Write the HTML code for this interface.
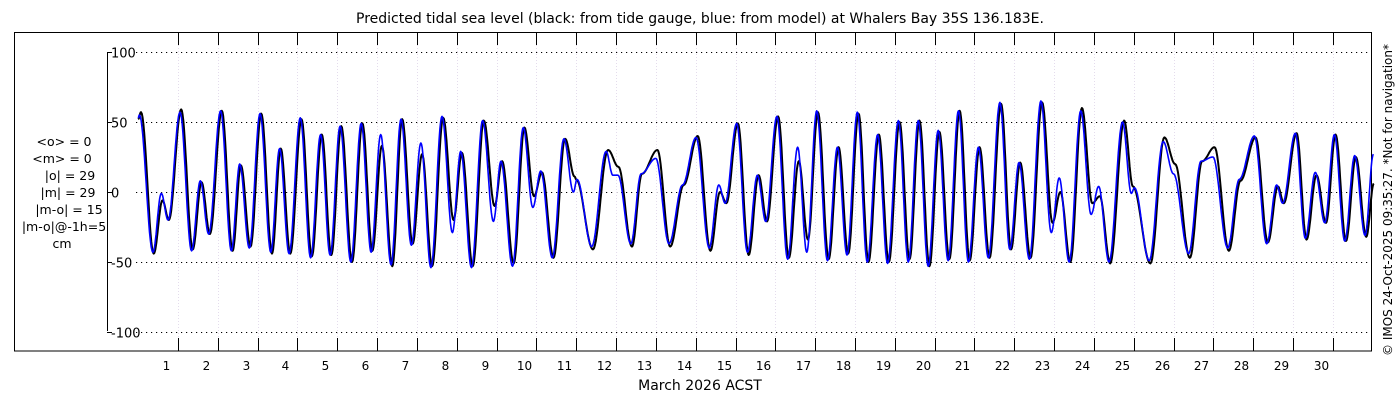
<!DOCTYPE html>
<html><head><meta charset="utf-8">
<style>
html,body{margin:0;padding:0;background:#fff;width:1400px;height:400px;overflow:hidden}
svg{display:block;font-family:"DejaVu Sans","Liberation Sans",sans-serif}
</style></head>
<body>
<svg id="chart" width="1400" height="400">
<defs><clipPath id="statclip"><rect x="0" y="0" width="107" height="400"/></clipPath></defs>
<text x="700" y="23" text-anchor="middle" font-size="14">Predicted tidal sea level (black: from tide gauge, blue: from model) at Whalers Bay 35S 136.183E.</text>
<rect x="14.5" y="32.5" width="1357" height="318.5" fill="none" stroke="#000" stroke-width="1"/>
<g id="grid"></g>
<g id="axes"></g>
<g id="series"></g>
<g font-size="12.5" text-anchor="middle" clip-path="url(#statclip)">
<text x="64" y="146">&lt;o&gt; = 0</text>
<text x="62" y="163">&lt;m&gt; = 0</text>
<text x="70" y="180">|o| = 29</text>
<text x="68" y="197">|m| = 29</text>
<text x="69" y="214">|m-o| = 15</text>
<text x="64" y="231">|m-o|@-1h=5</text>
<text x="62" y="248">cm</text>
</g>
<line x1="107.5" y1="52" x2="107.5" y2="331" stroke="#000"/>
<text x="700" y="390" text-anchor="middle" font-size="14">March 2026 ACST</text>
<text transform="translate(1392,200) rotate(-90)" text-anchor="middle" font-size="12">© IMOS 24-Oct-2025 09:35:27. *Not for navigation*</text>
</svg>
<script>
// observed (black) extremes: time in days from 1 Mar 00:00, value in cm
const obsTimes = [0,0.07,0.39,0.61,0.77,1.08,1.37,1.59,1.80,2.10,2.37,2.58,2.82,3.09,3.36,3.58,3.82,4.10,4.36,4.61,4.85,5.10,5.37,5.63,5.88,6.12,6.38,6.63,6.89,7.13,7.38,7.66,7.92,8.13,8.40,8.68,8.95,9.14,9.43,9.70,9.94,10.14,10.43,10.72,10.96,11.00,11.42,11.80,12.06,12.40,12.65,13.04,13.36,13.70,14.05,14.37,14.61,14.77,15.06,15.33,15.58,15.79,16.07,16.34,16.59,16.82,17.07,17.34,17.59,17.83,18.09,18.34,18.60,18.85,19.12,19.37,19.62,19.87,20.12,20.37,20.63,20.88,21.13,21.38,21.67,21.92,22.15,22.41,22.70,22.96,23.16,23.41,23.70,23.96,24.15,24.41,24.76,24.98,25.42,25.77,26.04,26.41,26.72,27.03,27.39,27.68,28.06,28.37,28.62,28.77,29.09,29.34,29.59,29.83,30.07,30.33,30.58,30.84,31.03];
const obsValues = [52,57,-44,-6,-20,59,-41,7,-30,58,-42,19,-39,56,-44,31,-44,52,-46,41,-45,47,-50,49,-42,33,-53,52,-37,27,-53,53,-20,28,-53,51,-10,22,-51,46,-3,14,-47,38,11,9,-41,30,18,-39,13,30,-39,5,40,-42,0,-8,49,-45,12,-21,54,-47,22,-34,57,-48,32,-44,56,-50,41,-50,50,-48,51,-53,43,-48,58,-49,32,-47,63,-41,21,-47,64,-22,0,-50,60,-8,-3,-51,51,4,-51,39,20,-47,22,32,-42,8,39,-36,4,-8,42,-34,12,-22,41,-35,25,-32,6];
// model (blue) extremes
const modTimes = [0,0.03,0.37,0.58,0.75,1.05,1.34,1.56,1.77,2.07,2.34,2.55,2.79,3.06,3.33,3.55,3.79,4.07,4.33,4.58,4.82,5.07,5.34,5.60,5.85,6.09,6.35,6.60,6.86,7.10,7.35,7.63,7.89,8.10,8.37,8.65,8.92,9.11,9.40,9.67,9.91,10.11,10.40,10.69,10.93,11.02,11.39,11.75,11.92,12.05,12.37,12.63,13.00,13.33,13.67,14.01,14.34,14.58,14.74,15.03,15.30,15.55,15.76,16.04,16.31,16.56,16.79,17.04,17.31,17.56,17.80,18.06,18.31,18.57,18.82,19.09,19.34,19.59,19.84,20.09,20.34,20.60,20.85,21.10,21.35,21.64,21.89,22.12,22.38,22.67,22.93,23.13,23.38,23.67,23.93,24.12,24.38,24.72,24.94,25.02,25.39,25.74,26.00,26.38,26.69,26.99,27.36,27.65,28.03,28.34,28.59,28.74,29.06,29.31,29.56,29.80,30.04,30.30,30.55,30.81,31.02];
const modValues = [53,55,-43,-1,-20,57,-42,8,-30,58,-42,20,-40,56,-43,31,-44,53,-47,41,-45,47,-50,49,-43,41,-52,52,-38,35,-54,54,-29,29,-54,51,-21,22,-53,46,-11,15,-47,38,0,9,-39,29,12,12,-37,13,24,-37,5,39,-40,5,-8,49,-43,12,-21,54,-48,32,-43,58,-49,32,-45,57,-50,41,-51,51,-50,51,-53,44,-49,58,-50,32,-47,64,-41,21,-48,65,-29,10,-50,58,-16,4,-50,50,-1,3,-49,36,13,-44,22,25,-40,9,40,-37,5,-8,42,-33,14,-22,41,-35,26,-31,27];
const dayLabels = ["1","2","3","4","5","6","7","8","9","10","11","12","13","14","15","16","17","18","19","20","21","22","23","24","25","26","27","28","29","30"];
const yTicks = [100,50,0,-50,-100];

const NS = "http://www.w3.org/2000/svg";
const X0 = 138.2, PXDAY = 39.82, Y0 = 192, PXCM = 1.4;
const xs = t => X0 + t*PXDAY;
const ys = v => Y0 - v*PXCM;
function mk(tag, attrs, parent){const e=document.createElementNS(NS,tag);for(const k in attrs)e.setAttribute(k,attrs[k]);parent.appendChild(e);return e;}
const grid=document.getElementById('grid'), axes=document.getElementById('axes'), series=document.getElementById('series');

yTicks.forEach(v=>{
  const y=Math.round(ys(v))+0.5;
  const gl=mk('line',{x1:136,y1:y,x2:1371,y2:y,stroke:'#000','stroke-dasharray':'1.2,3.8'},grid);
  
  
  const tk=mk('line',{x1:107,y1:y,x2:112,y2:y,stroke:'#000'},axes);
  
  
  const tl=mk('text',{x:111,y:y+5,'font-size':13},axes);
  tl.textContent=String(v);
  
  
});
dayLabels.forEach((d,i)=>{
  const x=Math.round(xs(i+1))+0.5;
  const vg=mk('line',{x1:x,y1:33,x2:x,y2:350,stroke:'#e4dcec','stroke-dasharray':'1,2'},grid);
  
  
  const t1=mk('line',{x1:x,y1:33,x2:x,y2:45,stroke:'#000'},axes);
  
  
  const t2=mk('line',{x1:x,y1:338,x2:x,y2:351,stroke:'#000'},axes);
  
  
  const tl=mk('text',{x:x-12,y:370,'text-anchor':'middle','font-size':12},axes);
  tl.textContent=d;
  
  
});
function curve(times, vals){
  let d='M'+xs(times[0]).toFixed(1)+','+ys(vals[0]).toFixed(1);
  for(let i=0;i<times.length-1;i++){
    const n=16;
    for(let k=1;k<=n;k++){
      const f=k/n, t=times[i]+(times[i+1]-times[i])*f;
      const w=(1-Math.cos(Math.PI*f))/2;
      const v=vals[i]+(vals[i+1]-vals[i])*w;
      d+='L'+xs(t).toFixed(1)+','+ys(v).toFixed(1);
    }
  }
  return d;
}
const po=mk('path',{d:curve(obsTimes,obsValues),fill:'none',stroke:'#000','stroke-width':2,'stroke-linejoin':'round'},series);


const pm=mk('path',{d:curve(modTimes,modValues),fill:'none',stroke:'#0000ff','stroke-width':1.6,'stroke-linejoin':'round'},series);


</script>
</body></html>
